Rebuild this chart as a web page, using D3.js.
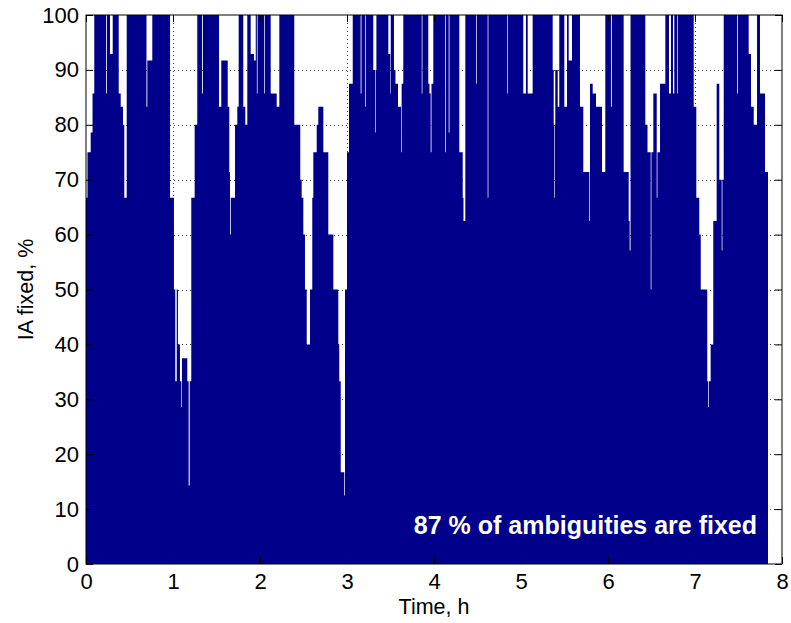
<!DOCTYPE html>
<html>
<head>
<title>IA fixed vs time</title>
<style>
body { margin: 0; background: #fff; }
.tick text { font-family: "Liberation Sans", Arial, sans-serif; font-size: 22px; fill: #000; }
.axisLabel { font-family: "Liberation Sans", Arial, sans-serif; font-size: 21.5px; fill: #000; }
.note { font-family: "Liberation Sans", Arial, sans-serif; font-size: 25px; font-weight: bold; fill: #fff; }
.grid line { stroke: #444; stroke-dasharray: 1,3; }
</style>
<script src="https://cdnjs.cloudflare.com/ajax/libs/d3/7.8.5/d3.min.js"></script>
</head>
<body>
<svg id="chart" width="791" height="623"></svg>
<script>

// step series: start time of each epoch block (h) and percentage of fixed ambiguities
var times = [0, 0.017, 0.054, 0.075, 0.095, 0.230, 0.239, 0.276, 0.307, 0.376, 0.399, 0.425, 0.440, 0.468,
  0.695, 0.705, 0.762, 0.966, 1.011, 1.026, 1.043, 1.057, 1.080, 1.094, 1.101, 1.103, 1.164, 1.180, 1.192,
  1.210, 1.249, 1.279, 1.333, 1.343, 1.529, 1.555, 1.629, 1.647, 1.655, 1.664, 1.713, 1.739, 1.755, 1.808,
  1.831, 1.854, 1.893, 1.931, 1.951, 1.964, 1.972, 2.046, 2.054, 2.123, 2.192, 2.222, 2.394, 2.463, 2.479,
  2.498, 2.517, 2.537, 2.575, 2.601, 2.613, 2.652, 2.670, 2.728, 2.785, 2.843, 2.900, 2.911, 2.928, 2.969,
  2.977, 3.000, 3.023, 3.066, 3.157, 3.166, 3.207, 3.215, 3.302, 3.322, 3.329, 3.338, 3.475, 3.497, 3.503,
  3.540, 3.557, 3.586, 3.621, 3.628, 3.647, 3.859, 3.867, 3.934, 3.948, 3.962, 3.971, 3.992, 4.130, 4.138,
  4.169, 4.178, 4.291, 4.330, 4.339, 4.360, 4.483, 4.491, 4.617, 4.625, 4.843, 4.851, 5.026, 5.057, 5.077,
  5.134, 5.364, 5.376, 5.383, 5.390, 5.394, 5.422, 5.440, 5.498, 5.529, 5.548, 5.586, 5.678, 5.716, 5.785,
  5.793, 5.824, 5.862, 5.931, 5.969, 6.034, 6.044, 6.180, 6.238, 6.249, 6.259, 6.429, 6.454, 6.491, 6.499,
  6.521, 6.560, 6.568, 6.598, 6.659, 6.701, 6.724, 6.747, 6.762, 6.793, 6.801, 6.985, 7.015, 7.049, 7.066,
  7.141, 7.153, 7.161, 7.180, 7.210, 7.249, 7.279, 7.307, 7.315, 7.330, 7.483, 7.492, 7.617, 7.644, 7.675,
  7.713, 7.747, 7.805, 7.839];

var fixedPct = [66.7, 75, 78.6, 85.7, 100, 85.7, 100, 92.9, 100, 85.7, 83.3, 80, 66.7, 100,
  83.3, 91.7, 100, 66.7, 50, 33.3, 50, 40, 33.3, 28.6, 33.3, 37.5, 33.3, 14.3, 33.3,
  66.7, 80, 100, 85.7, 100, 83.3, 91.7, 83.3, 71.4, 60, 66.7, 80, 83.3, 100, 83.3,
  80, 100, 92.9, 91.7, 100, 85.7, 100, 85.7, 100, 85.7, 83.3, 100, 80, 70, 66.7,
  60, 50, 40, 50, 66.7, 75, 80, 83.3, 75, 60, 50, 40, 33.3, 16.7, 12.5,
  50, 75, 87.5, 100, 85.7, 100, 83.3, 100, 90, 78.6, 90, 100, 92.9, 85.7, 100,
  90, 87.5, 83.3, 75, 87.5, 100, 85.7, 100, 87.5, 85.7, 75, 87.5, 100, 75, 100,
  78.6, 100, 75, 66.7, 62.5, 100, 87.5, 100, 66.7, 100, 85.7, 100, 85.7, 100, 85.7,
  100, 90, 80, 66.7, 80, 90, 83.3, 100, 83.3, 100, 91.7, 100, 83.3, 71.4, 62.5,
  87.5, 85.7, 83.3, 71.4, 100, 83.3, 100, 71.4, 62.5, 57.1, 100, 80, 75, 50, 75,
  85.7, 66.7, 75, 87.5, 100, 85.7, 100, 85.7, 100, 85.7, 100, 83.3, 66.7, 60, 50,
  33.3, 28.6, 33.3, 40, 62.5, 87.5, 70, 57.1, 70, 100, 85.7, 100, 92.9, 83.3, 80,
  100, 85.7, 71.4, 71.4];

var xTicks = [0, 1, 2, 3, 4, 5, 6, 7, 8];
var yTicks = [0, 10, 20, 30, 40, 50, 60, 70, 80, 90, 100];
var xTitle = "Time, h";
var yTitle = "IA fixed, %";
var note = "87 % of ambiguities are fixed";

var data = times.map(function(t, i) { return {t: t, v: fixedPct[i]}; });

var width = 791, height = 623;
var margin = ({top: 15, right: 9, bottom: 59, left: 86});

var x = d3.scaleLinear().domain([0, 8]).range([margin.left, width - margin.right]);
var y = d3.scaleLinear().domain([0, 100]).range([height - margin.bottom, margin.top]);

var svg = d3.select('#chart');

// grid (drawn first so the fill hides it)
var grid = svg.append("g").attr("class", "grid");
grid.selectAll("line.gx")
  .data(xTicks.slice(1, -1))
  .join("line")
  .attr("x1", d => x(d) + 0.5).attr("x2", d => x(d) + 0.5)
  .attr("y1", y(100)).attr("y2", y(0));
grid.selectAll("line.gy")
  .data(yTicks.slice(1, -1))
  .join("line")
  .attr("class", "gy")
  .attr("x1", x(0)).attr("x2", x(8))
  .attr("y1", d => Math.round(y(d)) + 0.5).attr("y2", d => Math.round(y(d)) + 0.5);

var area = d3.area()
  .x(d => x(d.t))
  .y0(y(0))
  .y1(d => y(d.v))
  .curve(d3.curveStepAfter);

svg.append("path")
  .datum(data)
  .attr("fill", "#00008b")
  .attr("d", area);

// axes with inward ticks, MATLAB style box
var tickLen = 7;
svg.append("g")
  .attr("transform", `translate(0,${y(0)})`)
  .call(d3.axisBottom(x).tickValues(xTicks).tickFormat(d3.format("d")).tickSizeInner(-tickLen).tickSizeOuter(0).tickPadding(9))
  .call(g => g.select(".domain").remove());

svg.append("g")
  .attr("transform", `translate(0,${y(100)})`)
  .call(d3.axisTop(x).tickValues(xTicks).tickFormat("").tickSizeInner(-tickLen).tickSizeOuter(0))
  .call(g => g.select(".domain").remove());

svg.append("g")
  .attr("transform", `translate(${x(0)},0)`)
  .call(d3.axisLeft(y).tickValues(yTicks).tickFormat(d3.format("d")).tickSizeInner(-tickLen).tickSizeOuter(0).tickPadding(7))
  .call(g => g.select(".domain").remove());

svg.append("g")
  .attr("transform", `translate(${x(8)},0)`)
  .call(d3.axisRight(y).tickValues(yTicks).tickFormat("").tickSizeInner(-tickLen).tickSizeOuter(0))
  .call(g => g.select(".domain").remove());

svg.append("rect")
  .attr("x", x(0)).attr("y", y(100))
  .attr("width", x(8) - x(0)).attr("height", y(0) - y(100))
  .attr("fill", "none").attr("stroke", "#000").attr("stroke-width", 1);

svg.append("text")
  .attr("class", "axisLabel")
  .attr("text-anchor", "middle")
  .attr("x", (x(0) + x(8)) / 2)
  .attr("y", 614)
  .text(xTitle);

svg.append("text")
  .attr("class", "axisLabel")
  .attr("text-anchor", "middle")
  .attr("transform", "translate(33," + ((y(0) + y(100)) / 2) + ") rotate(-90)")
  .text(yTitle);

svg.append("text")
  .attr("class", "note")
  .attr("text-anchor", "end")
  .attr("x", 757)
  .attr("y", 534)
  .text(note);

</script>
</body>
</html>
